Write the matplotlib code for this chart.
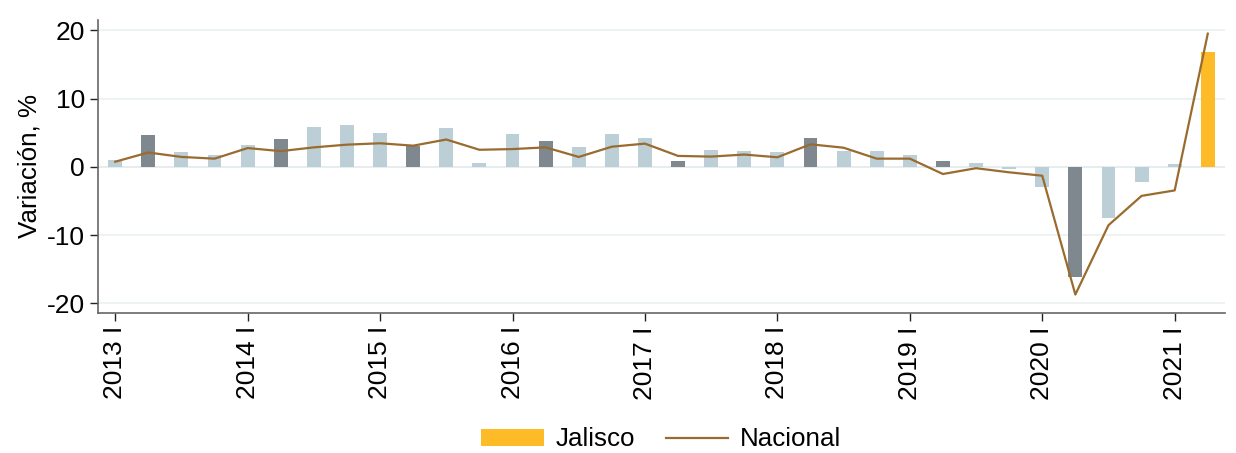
import matplotlib
matplotlib.use("Agg")
import matplotlib.pyplot as plt
import numpy as np
from matplotlib.patches import Patch
from matplotlib.lines import Line2D

plt.rcParams['font.family'] = ['Liberation Sans', 'DejaVu Sans']
plt.rcParams['axes.unicode_minus'] = False

years = [2013, 2014, 2015, 2016, 2017, 2018, 2019, 2020, 2021]
quarters = ["I", "II", "III", "IV"]

jalisco = [1.0, 4.7, 2.1, 1.7,
           3.2, 4.05, 5.9, 6.1,
           5.0, 3.1, 5.7, 0.6,
           4.8, 3.8, 2.9, 4.8,
           4.2, 0.85, 2.45, 2.35,
           2.2, 4.2, 2.3, 2.3,
           1.8, 0.9, 0.6, -0.3,
           -2.9, -16.2, -7.45, -2.15,
           0.35, 16.8]

nacional = [0.75, 2.1, 1.45, 1.2,
            2.75, 2.3, 2.85, 3.25,
            3.45, 3.1, 4.0, 2.5,
            2.6, 2.85, 1.45, 2.95,
            3.4, 1.6, 1.5, 1.8,
            1.4, 3.3, 2.8, 1.2,
            1.2, -1.05, -0.2, -0.8,
            -1.3, -18.7, -8.55, -4.25,
            -3.45, 19.5]

labels = [f"{y} {q}" for y in years for q in quarters][:len(jalisco)]

c_light = '#bccfd7'
c_dark = '#7e888e'
c_yellow = '#fcbb27'
c_line = '#9a6b2e'

x = np.arange(len(jalisco))
colors = []
for i in range(len(jalisco)):
    if i == len(jalisco) - 1:
        colors.append(c_yellow)
    elif i % 4 == 1:
        colors.append(c_dark)
    else:
        colors.append(c_light)

fig = plt.figure(figsize=(12.36, 4.53), dpi=100)
ax = fig.add_axes([98/1236, 1-313/453, (1225-98)/1236, (313-20)/453])

for yv in [-20, -10, 10, 20]:
    ax.axhline(yv, color='#eaf0f0', lw=1.2, zorder=0)
ax.axhline(0, color='#e0eaef', lw=1.2, zorder=0)

ax.bar(x, jalisco, width=0.42, color=colors, zorder=2)
ax.plot(x, nacional, color=c_line, lw=1.6, zorder=3)

ax.set_xlim(-0.52, 33.52)
ax.set_ylim(-21.4, 21.5)
ax.set_yticks([-20, -10, 0, 10, 20])
ax.set_xticks(x[::4])
ax.set_xticklabels(labels[::4], rotation=90)
ax.tick_params(axis='both', labelsize=19, length=6, width=1, color='#222222')
ax.set_ylabel("Variación, %", fontsize=18.7)
for s in ['top', 'right']:
    ax.spines[s].set_visible(False)
for s in ['left', 'bottom']:
    ax.spines[s].set_color('#666666')
    ax.spines[s].set_linewidth(1.2)

handles = [Patch(facecolor=c_yellow, edgecolor='none'),
           Line2D([0], [0], color=c_line, lw=1.6)]
fig.legend(handles, ["Jalisco", "Nacional"], loc='center', bbox_to_anchor=(0.535, 0.03),
           ncol=2, frameon=False, fontsize=18.7, handlelength=2.4, handleheight=0.62,
           handletextpad=0.45, columnspacing=1.2)

fig.savefig("out.png", dpi=100, facecolor='white')
